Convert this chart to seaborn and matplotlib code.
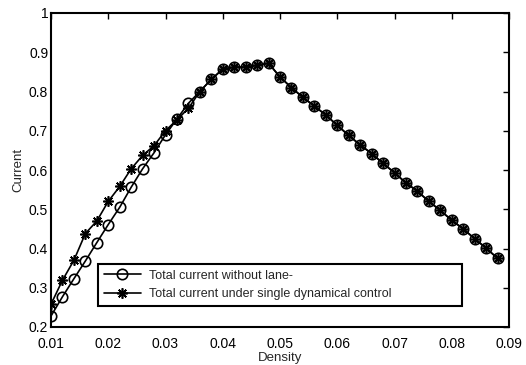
import matplotlib
matplotlib.use("Agg")
import matplotlib.pyplot as plt
import seaborn as sns
import pandas as pd

density = [0.010, 0.012, 0.014, 0.016, 0.018, 0.020, 0.022, 0.024, 0.026, 0.028,
           0.030, 0.032, 0.034, 0.036, 0.038, 0.040, 0.042, 0.044, 0.046, 0.048,
           0.050, 0.052, 0.054, 0.056, 0.058, 0.060, 0.062, 0.064, 0.066, 0.068,
           0.070, 0.072, 0.074, 0.076, 0.078, 0.080, 0.082, 0.084, 0.086, 0.088]
current_no_lane = [0.228, 0.277, 0.323, 0.368, 0.415, 0.461, 0.505, 0.556, 0.603, 0.644,
                   0.690, 0.730, 0.770, 0.800, 0.831, 0.857, 0.862, 0.862, 0.867, 0.872,
                   0.837, 0.810, 0.785, 0.763, 0.740, 0.714, 0.688, 0.664, 0.642, 0.617,
                   0.593, 0.567, 0.546, 0.520, 0.497, 0.472, 0.450, 0.425, 0.401, 0.375]
current_control = [0.258, 0.319, 0.370, 0.438, 0.470, 0.520, 0.558, 0.603, 0.637, 0.662,
                   0.700, 0.728, 0.757, 0.800, 0.831, 0.857, 0.862, 0.862, 0.867, 0.872,
                   0.837, 0.810, 0.785, 0.763, 0.740, 0.714, 0.688, 0.664, 0.642, 0.617,
                   0.593, 0.567, 0.546, 0.520, 0.497, 0.472, 0.450, 0.425, 0.401, 0.375]
labels = ["Total current without lane-", "Total current under single dynamical control"]
xticks = [0.01, 0.02, 0.03, 0.04, 0.05, 0.06, 0.07, 0.08, 0.09]
xticklabels = ["0.01", "0.02", "0.03", "0.04", "0.05", "0.06", "0.07", "0.08", "0.09"]
yticks = [0.2, 0.3, 0.4, 0.5, 0.6, 0.7, 0.8, 0.9, 1.0]
yticklabels = ["0.2", "0.3", "0.4", "0.5", "0.6", "0.7", "0.8", "0.9", "1"]

sns.set_style("white")
plt.rcParams['font.family'] = ['Liberation Sans', 'DejaVu Sans']

fig = plt.figure(figsize=(5.26, 3.65), dpi=100)
ax = fig.add_axes([51/526, 1-327/365, (509-51)/526, (327-13)/365])

df1 = pd.DataFrame({"x": density, "y": current_no_lane})
df2 = pd.DataFrame({"x": density, "y": current_control})
sns.lineplot(data=df1, x="x", y="y", ax=ax, color="black", linewidth=1.2,
             marker="o", markersize=7.5, markerfacecolor="none", markeredgecolor="black",
             markeredgewidth=1.2, sort=False, label=labels[0])
sns.lineplot(data=df2, x="x", y="y", ax=ax, color="black", linewidth=1.2,
             marker=(8, 2, 0), markersize=7.5, markeredgecolor="black",
             markeredgewidth=1.2, sort=False, label=labels[1])

ax.set_xlim(0.01, 0.09)
ax.set_ylim(0.2, 1.0)
ax.set_xticks(xticks)
ax.set_xticklabels(xticklabels)
ax.set_yticks(yticks)
ax.set_yticklabels(yticklabels)
ax.tick_params(direction="in", length=4, width=1, top=True, right=True,
               labelsize=10, colors="black")
ax.tick_params(axis="x", pad=7)
ax.tick_params(axis="y", pad=2)
for s in ax.spines.values():
    s.set_visible(True)
    s.set_color("black")
    s.set_linewidth(1.5)
ax.set_xlabel("Density", fontsize=9.5, labelpad=1)
ax.set_ylabel("Current", fontsize=9.5, labelpad=3)

x0 = (98-51)/458
w = (462-98)/458
y1 = (327-264)/314
leg = ax.legend(loc="upper left", bbox_to_anchor=(x0, y1 - 0.2, w, 0.2), mode="expand",
                fontsize=9, frameon=True, fancybox=False, edgecolor="black",
                framealpha=1, borderpad=0.45, labelspacing=0.5, handlelength=3.0,
                handletextpad=0.6, borderaxespad=0)
leg.get_frame().set_linewidth(1.5)

fig.savefig("out.png", dpi=100)
